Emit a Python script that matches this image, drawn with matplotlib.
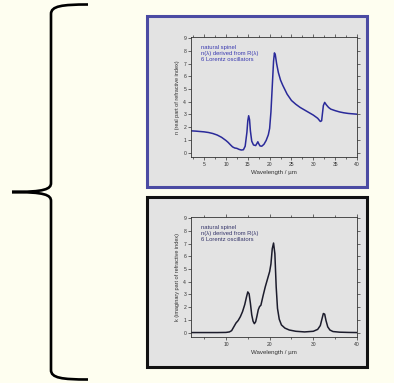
"""Optical constants of natural spinel: n and k from a 6-oscillator Lorentz fit."""
import matplotlib

matplotlib.use("Agg")
import matplotlib.pyplot as plt
from matplotlib.patches import Rectangle, PathPatch
from matplotlib.path import Path
from matplotlib.ticker import MultipleLocator

# real part n(lambda)
wl_n = [2, 3, 4, 5, 6, 7, 8, 9, 10, 10.5, 11, 11.5, 12, 12.5, 13, 13.5, 14, 14.4,
        14.8, 15.0, 15.2, 15.4, 15.6, 15.9, 16.3, 16.8, 17.1, 17.3, 17.5, 17.8, 18.2,
        18.7, 19.2, 19.7, 20.0, 20.3, 20.6, 20.9, 21.1, 21.3, 21.6, 22.0, 22.5, 23, 24,
        25, 26, 27, 28, 29, 30, 31, 31.6, 31.9, 32.1, 32.3, 32.6, 33.0, 33.5, 34, 35,
        36, 37, 38, 39, 40]
n_vals = [1.71, 1.69, 1.66, 1.63, 1.58, 1.50, 1.38, 1.20, 0.95, 0.80, 0.62, 0.45,
          0.36, 0.33, 0.25, 0.20, 0.22, 0.50, 1.6, 2.5, 2.9, 2.6, 1.7, 0.9, 0.6, 0.55,
          0.72, 0.85, 0.70, 0.52, 0.50, 0.65, 0.95, 1.4, 1.9, 3.2, 5.2, 7.2, 7.85, 7.7,
          7.0, 6.3, 5.7, 5.3, 4.6, 4.1, 3.8, 3.55, 3.35, 3.15, 2.95, 2.7, 2.45, 2.5,
          3.1, 3.7, 3.95, 3.75, 3.55, 3.42, 3.3, 3.2, 3.13, 3.08, 3.05, 3.02]

# imaginary part k(lambda)
wl_k = [2, 5, 8, 10, 10.8, 11.3, 11.8, 12.3, 12.8, 13.3, 13.8, 14.3, 14.7, 15.0,
        15.3, 15.6, 15.9, 16.2, 16.5, 16.8, 17.1, 17.4, 17.7, 18.0, 18.5, 19.0, 19.5,
        20.0, 20.3, 20.6, 20.9, 21.2, 21.5, 21.8, 22.2, 22.7, 23.5, 24.5, 26, 28, 30,
        31, 31.6, 32.0, 32.3, 32.6, 32.9, 33.3, 33.8, 34.5, 36, 38, 40]
k_vals = [0.0, 0.0, 0.0, 0.01, 0.05, 0.15, 0.45, 0.75, 0.95, 1.25, 1.65, 2.2, 2.8,
          3.2, 3.05, 2.3, 1.4, 0.9, 0.7, 0.85, 1.3, 1.8, 2.05, 2.15, 2.9, 3.6, 4.2,
          4.8, 5.4, 6.6, 7.05, 6.2, 3.6, 1.9, 1.05, 0.6, 0.35, 0.2, 0.1, 0.05, 0.1,
          0.25, 0.55, 1.1, 1.5, 1.45, 0.95, 0.45, 0.2, 0.08, 0.03, 0.01, 0.0]

note_lines = ["natural spinel", "n(\u03bb) derived from R(\u03bb)", "6 Lorentz oscillators"]

plt.rcParams["font.family"] = ["Liberation Sans", "DejaVu Sans"]

W, H = 394, 383
fig = plt.figure(figsize=(W / 100, H / 100), dpi=100)
fig.patch.set_facecolor("#fefef0")

panel_gray = "#e3e3e3"


def fx(px):
    return px / W


def fy(py):
    return 1 - py / H


# panel frames (drawn beneath the axes)
for (top, bot, edge) in [(16, 187, "#4b4ba3"), (197, 367, "#111111")]:
    fig.patches.append(Rectangle((fx(147), fy(bot)), fx(367) - fx(147), fy(top) - fy(bot),
                                 transform=fig.transFigure, facecolor=panel_gray,
                                 edgecolor=edge, linewidth=2.2, zorder=-5))

# curly brace on the left
deco = fig.add_axes([0, 0, 1, 1], zorder=-10)
deco.set_xlim(0, W)
deco.set_ylim(H, 0)
deco.axis("off")
verts = [(88, 4.5), (62, 4.5), (51, 6), (51, 14),
         (51, 183),
         (51, 189), (45, 192), (12, 192),
         (45, 192), (51, 195), (51, 201),
         (51, 370),
         (51, 378), (62, 379.5), (88, 379.5)]
codes = [Path.MOVETO, Path.CURVE4, Path.CURVE4, Path.CURVE4,
         Path.LINETO,
         Path.CURVE4, Path.CURVE4, Path.CURVE4,
         Path.CURVE4, Path.CURVE4, Path.CURVE4,
         Path.LINETO,
         Path.CURVE4, Path.CURVE4, Path.CURVE4]
deco.add_patch(PathPatch(Path(verts, codes), facecolor="none", edgecolor="black",
                         linewidth=1.9, capstyle="butt"))


def style_axes(ax, major_x, minor_x):
    ax.set_facecolor(panel_gray)
    ax.set_xlim(2, 40)
    ax.set_ylim(-0.35, 9.1)
    ax.xaxis.set_major_locator(MultipleLocator(major_x))
    ax.xaxis.set_minor_locator(MultipleLocator(minor_x))
    ax.yaxis.set_major_locator(MultipleLocator(1))
    ax.tick_params(which="both", direction="out", top=True, right=True,
                   labelsize=3.6, colors="#333333", width=0.5, pad=1.5)
    ax.tick_params(which="major", length=2)
    ax.tick_params(which="minor", length=1.2)
    for s in ax.spines.values():
        s.set_linewidth(0.6)
        s.set_color("#333333")
    ax.set_xlabel("Wavelength / \u00b5m", fontsize=4.4, color="#333333", labelpad=2)


ax1 = fig.add_axes([fx(191), fy(157), fx(357) - fx(191), fy(37) - fy(157)])
style_axes(ax1, 5, 2.5)
ax1.plot(wl_n, n_vals, color="#2a2a9a", linewidth=1.1)
ax1.set_ylabel("n (real part of refractive index)", fontsize=4.0, color="#333333", labelpad=2)
ax1.text(4.2, 7.8, "\n".join(note_lines), fontsize=4.2, color="#3a3ab0",
         va="center", linespacing=1.25)

ax2 = fig.add_axes([fx(191), fy(337), fx(357) - fx(191), fy(217) - fy(337)])
style_axes(ax2, 10, 5)
ax2.plot(wl_k, k_vals, color="#1c1c2c", linewidth=1.1)
ax2.set_ylabel("k (imaginary part of refractive index)", fontsize=4.0, color="#333333", labelpad=2)
ax2.text(4.2, 7.8, "\n".join(note_lines), fontsize=4.2, color="#34346a",
         va="center", linespacing=1.25)

fig.savefig("out.png", dpi=100, facecolor=fig.get_facecolor())
